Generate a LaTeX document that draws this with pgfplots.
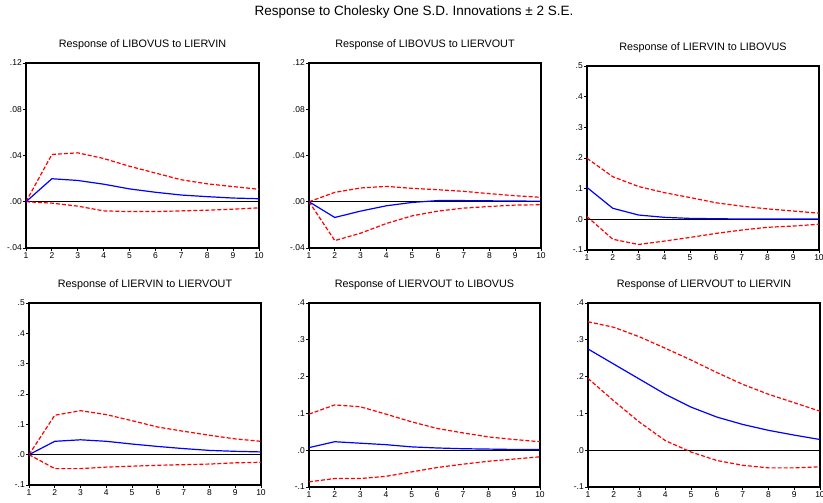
\documentclass[border=0pt]{standalone}
\usepackage{pgfplots}
\pgfplotsset{compat=1.18}
\usepackage{fontspec}
\setmainfont{Liberation Sans}
\definecolor{irfblue}{RGB}{0,0,255}
\definecolor{irfred}{RGB}{255,0,0}
\pgfplotsset{
  irf/.style={
    scale only axis, width=232pt, height=184pt,
    xmin=1, xmax=10, xtick={1,2,3,4,5,6,7,8,9,10},
    xticklabels={1,2,3,4,5,6,7,8,9,10},
    tick align=outside, major tick length=3pt,
    xtick pos=bottom, ytick pos=left,
    tick style={black, line width=0.8pt},
    axis line style={black, line width=1.1pt},
    /pgf/number format/assume math mode=true,
    ticklabel style={font=\fontsize{8.5}{9}\selectfont},
    xticklabel style={inner sep=1pt},
    yticklabel style={inner sep=1pt},
    title style={font=\fontsize{10.8}{12}\selectfont, at={(0.5,1)}, anchor=south, yshift=4pt},
    anchor=north west,
  },
  mid/.style={irfblue, line width=1.2pt, mark=none},
  band/.style={irfred, line width=1.2pt, mark=none, dash pattern=on 4pt off 2pt},
  zero/.style={black, line width=0.9pt, mark=none},
}
\begin{document}
\begin{tikzpicture}
\useasboundingbox (0pt,0pt) rectangle (823pt,503pt);
\node[font=\fontsize{13.5}{15}\selectfont] at (414pt,491pt) {Response to Cholesky One S.D. Innovations ± 2 S.E.};

% Panel 1
\begin{axis}[irf, at={(26pt,440pt)}, width=233pt, height=185pt,
  title={Response of LIBOVUS to LIERVIN},
  ymin=-0.04, ymax=0.12, ytick={-0.04,0,0.04,0.08,0.12},
  yticklabels={-.04,.00,.04,.08,.12}]
\addplot[zero] coordinates {(1,0) (10,0)};
\addplot[band] coordinates {(1,0) (2,0.0409) (3,0.0423) (4,0.0374) (5,0.0307) (6,0.0248) (7,0.019) (8,0.0155) (9,0.0131) (10,0.0108)};
\addplot[band] coordinates {(1,0) (2,-0.0012) (3,-0.0038) (4,-0.0079) (5,-0.0085) (6,-0.0085) (7,-0.0079) (8,-0.0073) (9,-0.0064) (10,-0.0053)};
\addplot[mid] coordinates {(1,0) (2,0.0199) (3,0.0184) (4,0.0152) (5,0.0111) (6,0.0082) (7,0.0058) (8,0.0044) (9,0.0032) (10,0.0026)};
\end{axis}

% Panel 2
\begin{axis}[irf, at={(309pt,440pt)}, width=232pt, height=185pt,
  title={Response of LIBOVUS to LIERVOUT},
  ymin=-0.04, ymax=0.12, ytick={-0.04,0,0.04,0.08,0.12},
  yticklabels={-.04,.00,.04,.08,.12}]
\addplot[zero] coordinates {(1,0) (10,0)};
\addplot[band] coordinates {(1,0) (2,0.0081) (3,0.0119) (4,0.0133) (5,0.0116) (6,0.0104) (7,0.009) (8,0.007) (9,0.0052) (10,0.0038)};
\addplot[band] coordinates {(1,0) (2,-0.0336) (3,-0.0272) (4,-0.0188) (5,-0.0122) (6,-0.0081) (7,-0.0055) (8,-0.0041) (9,-0.0029) (10,-0.0026)};
\addplot[mid] coordinates {(1,0) (2,-0.0136) (3,-0.0081) (4,-0.0035) (5,-0.0006) (6,0.001) (7,0.001) (8,0.0008) (9,0.0006) (10,0.0005)};
\end{axis}

% Panel 3
\begin{axis}[irf, at={(587pt,437pt)},
  title={Response of LIERVIN to LIBOVUS},
  ymin=-0.1, ymax=0.5, ytick={-0.1,0,0.1,0.2,0.3,0.4,0.5},
  yticklabels={-.1,.0,.1,.2,.3,.4,.5}]
\addplot[zero] coordinates {(1,0) (10,0)};
\addplot[band] coordinates {(1,0.199) (2,0.139) (3,0.107) (4,0.087) (5,0.071) (6,0.054) (7,0.043) (8,0.034) (9,0.027) (10,0.02)};
\addplot[band] coordinates {(1,0.009) (2,-0.065) (3,-0.082) (4,-0.071) (5,-0.059) (6,-0.046) (7,-0.035) (8,-0.026) (9,-0.022) (10,-0.016)};
\addplot[mid] coordinates {(1,0.104) (2,0.036) (3,0.014) (4,0.0065) (5,0.003) (6,0.002) (7,0.001) (8,0.001) (9,0.001) (10,0.001)};
\end{axis}

% Panel 4
\begin{axis}[irf, at={(29pt,200pt)}, height=182pt,
  title={Response of LIERVIN to LIERVOUT},
  ymin=-0.1, ymax=0.5, ytick={-0.1,0,0.1,0.2,0.3,0.4,0.5},
  yticklabels={-.1,.0,.1,.2,.3,.4,.5}]
\addplot[zero] coordinates {(1,0) (10,0)};
\addplot[band] coordinates {(1,0) (2,0.13) (3,0.145) (4,0.132) (5,0.112) (6,0.091) (7,0.077) (8,0.064) (9,0.052) (10,0.044)};
\addplot[band] coordinates {(1,0) (2,-0.046) (3,-0.046) (4,-0.041) (5,-0.038) (6,-0.035) (7,-0.033) (8,-0.031) (9,-0.027) (10,-0.025)};
\addplot[mid] coordinates {(1,0) (2,0.044) (3,0.049) (4,0.044) (5,0.035) (6,0.027) (7,0.02) (8,0.014) (9,0.011) (10,0.009)};
\end{axis}

% Panel 5
\begin{axis}[irf, at={(309pt,200pt)}, width=231pt,
  title={Response of LIERVOUT to LIBOVUS},
  ymin=-0.1, ymax=0.4, ytick={-0.1,0,0.1,0.2,0.3,0.4},
  yticklabels={-.1,.0,.1,.2,.3,.4}]
\addplot[zero] coordinates {(1,0) (10,0)};
\addplot[band] coordinates {(1,0.098) (2,0.123) (3,0.118) (4,0.098) (5,0.077) (6,0.059) (7,0.047) (8,0.036) (9,0.029) (10,0.023)};
\addplot[band] coordinates {(1,-0.086) (2,-0.077) (3,-0.077) (4,-0.071) (5,-0.059) (6,-0.047) (7,-0.038) (8,-0.03) (9,-0.024) (10,-0.018)};
\addplot[mid] coordinates {(1,0.007) (2,0.023) (3,0.019) (4,0.015) (5,0.009) (6,0.006) (7,0.004) (8,0.003) (9,0.002) (10,0.002)};
\end{axis}

% Panel 6
\begin{axis}[irf, at={(588pt,200pt)},
  title={Response of LIERVOUT to LIERVIN},
  ymin=-0.1, ymax=0.4, ytick={-0.1,0,0.1,0.2,0.3,0.4},
  yticklabels={-.1,.0,.1,.2,.3,.4}]
\addplot[zero] coordinates {(1,0) (10,0)};
\addplot[band] coordinates {(1,0.349) (2,0.334) (3,0.308) (4,0.277) (5,0.245) (6,0.211) (7,0.179) (8,0.152) (9,0.129) (10,0.106)};
\addplot[band] coordinates {(1,0.195) (2,0.134) (3,0.076) (4,0.026) (5,-0.005) (6,-0.028) (7,-0.041) (8,-0.048) (9,-0.048) (10,-0.045)};
\addplot[mid] coordinates {(1,0.275) (2,0.234) (3,0.193) (4,0.152) (5,0.117) (6,0.09) (7,0.07) (8,0.054) (9,0.041) (10,0.029)};
\end{axis}
\end{tikzpicture}
\end{document}
